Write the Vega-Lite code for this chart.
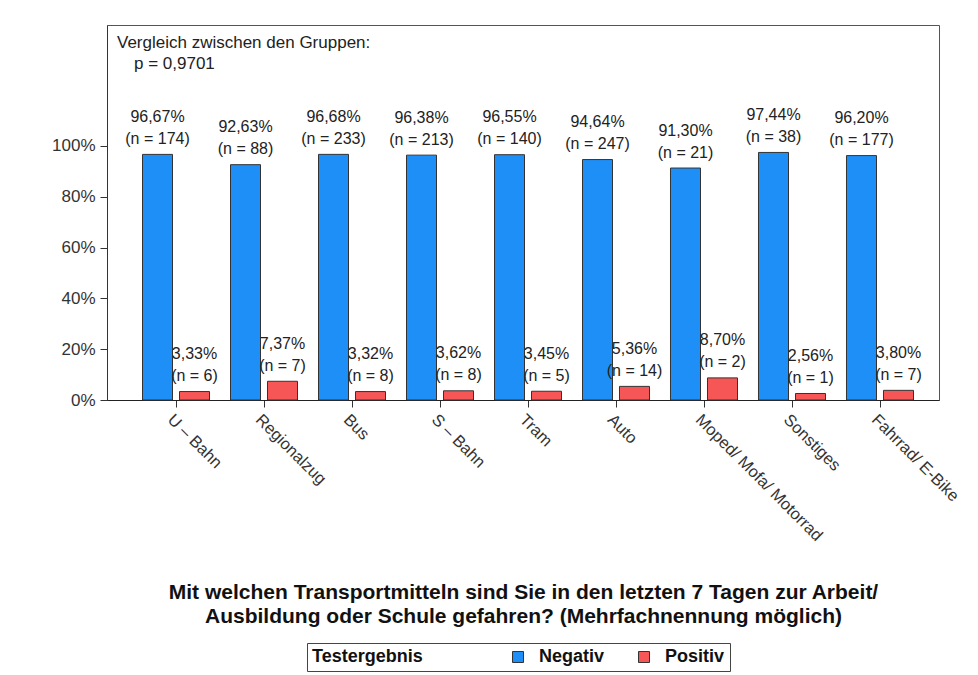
{
  "$schema": "https://vega.github.io/schema/vega-lite/v6.json",
  "autosize": {"type": "none"},
  "width": 832,
  "height": 375,
  "padding": {"left": 107, "top": 25, "right": 39, "bottom": 275},
  "background": "white",
  "config": {
    "font": "Liberation Sans",
    "view": {"stroke": "#555", "strokeWidth": 1}
  },
  "title": {
    "text": ["Vergleich zwischen den Gruppen:", "\u200b\u2002\u2002p = 0,9701"],
    "anchor": "start",
    "frame": "group",
    "orient": "top",
    "offset": -47.5,
    "dx": 10,
    "fontSize": 17,
    "fontWeight": "normal",
    "color": "#222",
    "font": "Liberation Sans",
    "lineHeight": 21
  },
  "data": {
    "values": [
      {"Verkehrsmittel": "U – Bahn", "Testergebnis": "Negativ", "Anteil": 0.9667, "Prozent": "96,67%", "N": "(n = 174)"},
      {"Verkehrsmittel": "U – Bahn", "Testergebnis": "Positiv", "Anteil": 0.0333, "Prozent": "3,33%", "N": "(n = 6)"},
      {"Verkehrsmittel": "Regionalzug", "Testergebnis": "Negativ", "Anteil": 0.9263, "Prozent": "92,63%", "N": "(n = 88)"},
      {"Verkehrsmittel": "Regionalzug", "Testergebnis": "Positiv", "Anteil": 0.0737, "Prozent": "7,37%", "N": "(n = 7)"},
      {"Verkehrsmittel": "Bus", "Testergebnis": "Negativ", "Anteil": 0.9668, "Prozent": "96,68%", "N": "(n = 233)"},
      {"Verkehrsmittel": "Bus", "Testergebnis": "Positiv", "Anteil": 0.0332, "Prozent": "3,32%", "N": "(n = 8)"},
      {"Verkehrsmittel": "S – Bahn", "Testergebnis": "Negativ", "Anteil": 0.9638, "Prozent": "96,38%", "N": "(n = 213)"},
      {"Verkehrsmittel": "S – Bahn", "Testergebnis": "Positiv", "Anteil": 0.0362, "Prozent": "3,62%", "N": "(n = 8)"},
      {"Verkehrsmittel": "Tram", "Testergebnis": "Negativ", "Anteil": 0.9655, "Prozent": "96,55%", "N": "(n = 140)"},
      {"Verkehrsmittel": "Tram", "Testergebnis": "Positiv", "Anteil": 0.0345, "Prozent": "3,45%", "N": "(n = 5)"},
      {"Verkehrsmittel": "Auto", "Testergebnis": "Negativ", "Anteil": 0.9464, "Prozent": "94,64%", "N": "(n = 247)"},
      {"Verkehrsmittel": "Auto", "Testergebnis": "Positiv", "Anteil": 0.0536, "Prozent": "5,36%", "N": "(n = 14)"},
      {"Verkehrsmittel": "Moped/ Mofa/ Motorrad", "Testergebnis": "Negativ", "Anteil": 0.913, "Prozent": "91,30%", "N": "(n = 21)"},
      {"Verkehrsmittel": "Moped/ Mofa/ Motorrad", "Testergebnis": "Positiv", "Anteil": 0.087, "Prozent": "8,70%", "N": "(n = 2)"},
      {"Verkehrsmittel": "Sonstiges", "Testergebnis": "Negativ", "Anteil": 0.9744, "Prozent": "97,44%", "N": "(n = 38)"},
      {"Verkehrsmittel": "Sonstiges", "Testergebnis": "Positiv", "Anteil": 0.0256, "Prozent": "2,56%", "N": "(n = 1)"},
      {"Verkehrsmittel": "Fahrrad/ E-Bike", "Testergebnis": "Negativ", "Anteil": 0.962, "Prozent": "96,20%", "N": "(n = 177)"},
      {"Verkehrsmittel": "Fahrrad/ E-Bike", "Testergebnis": "Positiv", "Anteil": 0.038, "Prozent": "3,80%", "N": "(n = 7)"}
    ]
  },
  "encoding": {
    "x": {
      "field": "Verkehrsmittel",
      "type": "nominal",
      "sort": null,
      "scale": {"paddingInner": 0.2386, "paddingOuter": 0.3466, "align": 0.582},
      "axis": {
        "labelAngle": 45,
        "labelAlign": "left",
        "labelBaseline": "top",
        "labelFontSize": 16.5,
        "labelColor": "#333",
        "labelPadding": 4,
        "labelLimit": 400,
        "tickSize": 7,
        "tickColor": "#333",
        "domainColor": "#222",
        "title": ["Mit welchen Transportmitteln sind Sie in den letzten 7 Tagen zur Arbeit/", "Ausbildung oder Schule gefahren? (Mehrfachnennung möglich)"],
        "titleFontSize": 21,
        "titleFontWeight": "bold",
        "titleColor": "#111",
        "titleBaseline": "alphabetic",
        "titleY": 198,
        "titleLineHeight": 24
      }
    },
    "xOffset": {
      "field": "Testergebnis",
      "type": "nominal",
      "scale": {"paddingInner": 0.189, "paddingOuter": 0}
    },
    "y": {
      "field": "Anteil",
      "type": "quantitative",
      "scale": {"domain": [0, 1.476], "nice": false, "zero": true},
      "axis": {
        "values": [0, 0.2, 0.4, 0.6, 0.8, 1],
        "format": ".0%",
        "grid": false,
        "title": null,
        "labelFontSize": 17,
        "labelColor": "#333",
        "labelPadding": 5,
        "tickSize": 7,
        "tickColor": "#333",
        "domainColor": "#333"
      }
    }
  },
  "layer": [
    {
      "mark": {"type": "bar", "stroke": "#333", "strokeWidth": 1},
      "encoding": {
        "color": {
          "field": "Testergebnis",
          "type": "nominal",
          "scale": {"domain": ["Negativ", "Positiv"], "range": ["#1e8ff7", "#f75656"]},
          "legend": {
            "orient": "none",
            "legendX": 200,
            "legendY": 618,
            "direction": "horizontal",
            "title": "Testergebnis",
            "titleOrient": "left",
            "titleFontSize": 18,
            "titleFontWeight": "bold",
            "titleColor": "#111",
            "titleBaseline": "middle",
            "titlePadding": 86,
            "labelFontSize": 18,
            "labelFontWeight": "bold",
            "labelColor": "#111",
            "labelOffset": 12,
            "columnPadding": 30,
            "symbolType": "square",
            "symbolSize": 121,
            "symbolStrokeColor": "#333",
            "symbolStrokeWidth": 1,
            "strokeColor": "#444",
            "fillColor": "white",
            "padding": 5
          }
        }
      }
    },
    {
      "mark": {"type": "text", "baseline": "middle", "dy": -15.5, "fontSize": 16, "color": "#222"},
      "encoding": {"text": {"field": "N"}}
    },
    {
      "mark": {"type": "text", "baseline": "middle", "dy": -37.5, "fontSize": 16, "color": "#222"},
      "encoding": {"text": {"field": "Prozent"}}
    }
  ]
}
